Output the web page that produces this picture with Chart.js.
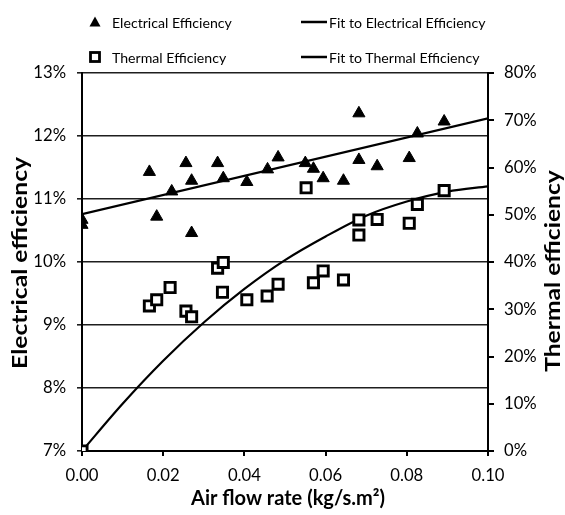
<!DOCTYPE html>
<html>
<head>
<meta charset="utf-8">
<script src="https://cdn.jsdelivr.net/npm/chart.js@4.4.1/dist/chart.umd.min.js"></script>
<style>
  html, body { margin: 0; padding: 0; background: #fff; }
  #wrap { position: relative; width: 565px; height: 515px; overflow: hidden; }
  #c { position: absolute; left: 0; top: 0; }
  .leg { position: absolute; white-space: nowrap; color: #000; transform: translateY(-50%); }
  .mk { position: absolute; }
</style>
</head>
<body>
<div id="wrap">
  <canvas id="c" width="565" height="515"></canvas>
</div>
<script>
// ---------- data ----------
const xTicks = [0, 0.02, 0.04, 0.06, 0.08, 0.10];

const elecX = [0, 0, 0.0166, 0.0184, 0.0221, 0.0256, 0.0270, 0.0270, 0.0334, 0.0348, 0.0406, 0.0457, 0.0483, 0.0550, 0.0570, 0.0594, 0.0644, 0.0682, 0.0682, 0.0727, 0.0806, 0.0826, 0.0892];
const elecEff = [10.67, 10.59, 11.43, 10.72, 11.12, 11.57, 11.29, 10.46, 11.57, 11.33, 11.27, 11.47, 11.66, 11.57, 11.48, 11.33, 11.29, 12.36, 11.62, 11.52, 11.65, 12.04, 12.23];

const thermX = [0, 0.0166, 0.0184, 0.0217, 0.0256, 0.0270, 0.0334, 0.0348, 0.0346, 0.0406, 0.0456, 0.0483, 0.0552, 0.0570, 0.0594, 0.0644, 0.0682, 0.0682, 0.0727, 0.0806, 0.0826, 0.0892];
const thermEff = [0, 30.7, 32.0, 34.6, 29.6, 28.4, 38.7, 39.9, 33.6, 32.0, 32.8, 35.3, 55.7, 35.6, 38.1, 36.2, 48.9, 45.7, 49.0, 48.2, 52.2, 55.1];

const elecFitX = [0, 0.10];
const elecFitY = [10.76, 12.28];

const thermFitX = [0, 0.01, 0.02, 0.03, 0.04, 0.05, 0.06, 0.07, 0.08, 0.09, 0.10];
const thermFitY = [0, 10.0, 19.1, 27.2, 34.3, 40.4, 45.4, 49.8, 52.8, 54.9, 56.0];

const legendLabels = ["Electrical Efficiency", "Fit to Electrical Efficiency", "Thermal Efficiency", "Fit to Thermal Efficiency"];
const xTitle = "Air flow rate (kg/s.m\u00B2)";
const yTitle = "Electrical efficiency";
const y2Title = "Thermal efficiency";

// ---------- styling helpers ----------
const FAMILY = "Lato, 'Open Sans', sans-serif";
const mctx = document.createElement('canvas').getContext('2d');
function fitSize(text, weight, target) {
  mctx.font = weight + " 100px " + FAMILY;
  return 100 * target / mctx.measureText(text).width;
}
const tickSize = fitSize("0.00", "normal", 33);
const legSize = fitSize(legendLabels[0], "normal", 120);
const xTitleSize = fitSize(xTitle, "bold", 194);
const yTitleSize = fitSize(yTitle, "bold", 212);

function pts(xs, ys) { return xs.map((x, i) => ({ x: x, y: ys[i] })); }

// ---------- legend (HTML) ----------
const wrap = document.getElementById('wrap');
function addText(txt, left, cy) {
  const d = document.createElement('div');
  d.className = 'leg';
  d.textContent = txt;
  d.style.left = left + 'px';
  d.style.top = cy + 'px';
  d.style.font = "normal " + legSize.toFixed(2) + "px " + FAMILY;
  wrap.appendChild(d);
}
function addSvg(left, top, w, h, inner) {
  const s = document.createElementNS('http://www.w3.org/2000/svg', 'svg');
  s.setAttribute('width', w); s.setAttribute('height', h);
  s.setAttribute('class', 'mk');
  s.style.left = left + 'px'; s.style.top = top + 'px';
  s.innerHTML = inner;
  wrap.appendChild(s);
}
const row1 = 22, row2 = 57;
addSvg(89, row1 - 6, 12, 12, '<polygon points="6,0.5 11.5,10.5 0.5,10.5" fill="#000"/>');
addText(legendLabels[0], 112, row1);
addSvg(300, row1 - 3, 28, 6, '<line x1="1" y1="3" x2="27" y2="3" stroke="#000" stroke-width="2.5"/>');
addText(legendLabels[1], 329, row1);
addSvg(89, row2 - 6, 12, 12, '<rect x="1.5" y="1.5" width="9" height="9" fill="#fff" stroke="#000" stroke-width="2.8"/>');
addText(legendLabels[2], 112, row2);
addSvg(300, row2 - 3, 28, 6, '<line x1="1" y1="3" x2="27" y2="3" stroke="#000" stroke-width="2.5"/>');
addText(legendLabels[3], 329, row2);

// ---------- titles plugin ----------
function drawVertical(ctx, text, cx, cy, size) {
  ctx.save();
  ctx.fillStyle = '#000';
  ctx.textAlign = 'center';
  ctx.textBaseline = 'middle';
  ctx.font = "bold " + size.toFixed(2) + "px " + FAMILY;
  ctx.translate(cx, cy);
  ctx.rotate(-Math.PI / 2);
  ctx.scale(1, 0.82);
  ctx.fillText(text, 0, 0);
  ctx.restore();
}
const titlesPlugin = {
  id: 'titles',
  afterDraw(chart) {
    const ctx = chart.ctx;
    ctx.save();
    ctx.fillStyle = '#000';
    ctx.textAlign = 'center';
    ctx.textBaseline = 'middle';
    ctx.font = "bold " + xTitleSize.toFixed(2) + "px " + FAMILY;
    ctx.fillText(xTitle, 288, 499);
    ctx.restore();
    drawVertical(ctx, yTitle, 20, 263, yTitleSize);
    drawVertical(ctx, y2Title, 553, 271, yTitleSize);
  }
};

const tickFont = { family: FAMILY, size: tickSize };
const AX = '#000';
const GRID = '#1e1e1e';

new Chart(document.getElementById('c'), {
  type: 'scatter',
  data: {
    datasets: [
      {
        label: legendLabels[0], data: pts(elecX, elecEff), yAxisID: 'y',
        pointStyle: 'triangle', pointRadius: 7, backgroundColor: '#000', borderColor: '#000', borderWidth: 1, showLine: false
      },
      {
        label: legendLabels[2], data: pts(thermX, thermEff), yAxisID: 'y2',
        pointStyle: 'rect', pointRadius: 7.2, backgroundColor: '#fff', borderColor: '#000', borderWidth: 2.9, showLine: false
      },
      {
        label: legendLabels[1], data: pts(elecFitX, elecFitY), yAxisID: 'y',
        showLine: true, pointRadius: 0, borderColor: '#000', borderWidth: 2.2, fill: false
      },
      {
        label: legendLabels[3], data: pts(thermFitX, thermFitY), yAxisID: 'y2',
        showLine: true, pointRadius: 0, borderColor: '#000', borderWidth: 2.2, fill: false,
        tension: 0.4, cubicInterpolationMode: 'monotone'
      }
    ]
  },
  options: {
    responsive: false,
    animation: false,
    events: [],
    layout: { padding: { top: 73, left: 0, right: 0, bottom: 0 } },
    plugins: { legend: { display: false }, tooltip: { enabled: false }, title: { display: false } },
    scales: {
      x: {
        type: 'linear', position: 'bottom', min: 0, max: 0.10,
        afterBuildTicks(s) { s.ticks = xTicks.map(v => ({ value: v })); },
        afterFit(s) { s.height = 64; },
        grid: { drawOnChartArea: false, drawTicks: true, tickLength: 5, color: AX, lineWidth: 2 },
        border: { display: true, color: AX, width: 2 },
        ticks: { color: '#000', font: tickFont, padding: 10, maxRotation: 0, callback: v => Number(v).toFixed(2) }
      },
      y: {
        type: 'linear', position: 'left', min: 7, max: 13,
        ticks: { stepSize: 1, color: '#000', font: tickFont, padding: 11, callback: v => v + '%' },
        afterFit(s) { s.width = 82; },
        grid: { drawOnChartArea: true, drawTicks: true, tickLength: 5, color: GRID, lineWidth: 1.6 },
        border: { display: true, color: AX, width: 2 }
      },
      y2: {
        type: 'linear', position: 'right', min: 0, max: 80,
        ticks: { stepSize: 10, color: '#000', font: tickFont, padding: 10, callback: v => v + '%' },
        afterFit(s) { s.width = 77; },
        grid: { drawOnChartArea: false, drawTicks: true, tickLength: 6, color: AX, lineWidth: 2 },
        border: { display: true, color: AX, width: 2 }
      }
    }
  },
  plugins: [titlesPlugin]
});
</script>
</body>
</html>
